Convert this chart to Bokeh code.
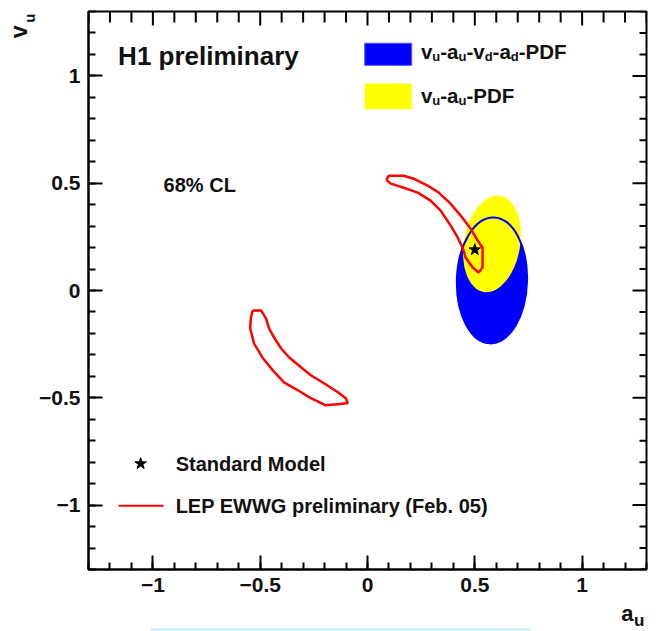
import numpy as np
from bokeh.plotting import figure
from bokeh.models import Range1d, LinearAxis, Label, FixedTicker, Title
from bokeh.embed import file_html
from bokeh.resources import INLINE

# ---------------- data ----------------
# LEP EWWG preliminary (Feb. 05) 68% CL contours
lep_upper_a = [0.088, 0.099, 0.169, 0.215, 0.280, 0.332, 0.387, 0.434, 0.480, 0.513,
               0.536, 0.536, 0.518, 0.490, 0.457, 0.443, 0.420, 0.387, 0.341, 0.294,
               0.234, 0.169, 0.108, 0.088]
lep_upper_v = [0.515, 0.535, 0.535, 0.521, 0.489, 0.456, 0.405, 0.349, 0.289, 0.233,
               0.200, 0.107, 0.084, 0.107, 0.154, 0.200, 0.247, 0.303, 0.372, 0.419,
               0.456, 0.479, 0.498, 0.515]
lep_lower_a = [-0.535, -0.496, -0.473, -0.459, -0.436, -0.403, -0.366, -0.310, -0.264,
               -0.203, -0.138, -0.101, -0.092, -0.194, -0.264, -0.324, -0.389, -0.441,
               -0.487, -0.529, -0.547, -0.543, -0.535]
lep_lower_v = [-0.093, -0.093, -0.130, -0.176, -0.218, -0.269, -0.311, -0.358, -0.395,
               -0.432, -0.474, -0.502, -0.525, -0.535, -0.502, -0.465, -0.428, -0.372,
               -0.316, -0.246, -0.176, -0.125, -0.093]

# H1 68% CL fits (ellipse centre, full widths, tilt)
fit_names = ["vu-au-vd-ad-PDF", "vu-au-PDF"]
fit_a = [0.580, 0.580]
fit_v = [0.047, 0.217]
fit_w = [0.327, 0.262]
fit_h = [0.587, 0.455]
fit_angle = [-0.03, -0.17]
fit_colors = ["#0000ff", "#ffff00"]

# Standard Model point
sm_a = [0.5]
sm_v = [0.19]

major_ticks = [-1.0, -0.5, 0.0, 0.5, 1.0]
minor_ticks = [round(t, 1) for t in np.arange(-1.3, 1.31, 0.1)]
minor_only = [t for t in minor_ticks if t not in major_ticks]

FONT = "Liberation Sans"
W = {"v": 0.556, "u": 0.611, "a": 0.556, "d": 0.611, "-": 0.333,
     "P": 0.667, "D": 0.722, "F": 0.611}
RED = "#ff0000"

# ---------------- figure ----------------
XR = Range1d(-1.3, 1.3)
YR = Range1d(-1.3, 1.3)
p = figure(width=669, height=631, x_range=XR, y_range=YR,
           output_backend="svg", toolbar_location=None,
           min_border_left=88, min_border_right=23, min_border_top=11, min_border_bottom=62)
p.grid.visible = False
p.outline_line_color = "black"
p.outline_line_width = 2
p.background_fill_color = "white"
p.border_fill_color = "white"

ticker = FixedTicker(ticks=major_ticks, minor_ticks=minor_ticks)

for ax in (p.xaxis[0], p.yaxis[0]):
    ax.ticker = ticker
    ax.axis_line_width = 2
    ax.axis_line_color = "black"
    ax.major_tick_line_width = 2
    ax.minor_tick_line_width = 2
    ax.major_tick_in = 14
    ax.major_tick_out = 0
    ax.minor_tick_in = 7
    ax.minor_tick_out = 0
    ax.major_label_text_font = FONT
    ax.major_label_text_font_style = "bold"
    ax.major_label_text_color = "#111111"
    ax.major_label_text_font_size = "21px"
    ax.major_label_standoff = 8

# mirrored ticks on top and right edges (drawn inward from the frame)
p.ray(x=major_ticks, y=[YR.end] * len(major_ticks), length=14, length_units="screen",
      angle=-np.pi / 2, line_color="black", line_width=2)
p.ray(x=minor_only, y=[YR.end] * len(minor_only), length=11, length_units="screen",
      angle=-np.pi / 2, line_color="black", line_width=2)
p.ray(x=[XR.end] * len(major_ticks), y=major_ticks, length=14, length_units="screen",
      angle=np.pi, line_color="black", line_width=2)
p.ray(x=[XR.end] * len(minor_only), y=minor_only, length=7, length_units="screen",
      angle=np.pi, line_color="black", line_width=2)

# fits
p.ellipse(x=fit_a[0], y=fit_v[0], width=fit_w[0], height=fit_h[0], angle=fit_angle[0],
          fill_color=fit_colors[0], line_color=None)
p.ellipse(x=fit_a[1], y=fit_v[1], width=fit_w[1], height=fit_h[1], angle=fit_angle[1],
          fill_color=fit_colors[1], line_color=None)
p.ellipse(x=fit_a[0], y=fit_v[0], width=fit_w[0], height=fit_h[0], angle=fit_angle[0],
          fill_color=None, line_color=fit_colors[0], line_width=2)

# LEP contours
p.line(lep_upper_a, lep_upper_v, line_color=RED, line_width=2.5)
p.line(lep_lower_a, lep_lower_v, line_color=RED, line_width=2.5)

# SM
p.scatter(sm_a, sm_v, marker="star", size=12, fill_color="black", line_color="black")

BASE_YO = 7


def lab(x, y, text, size, xo=0, yo=0):
    p.add_layout(Label(x=x, y=y, x_offset=xo, y_offset=yo + BASE_YO,
                       text=text, text_font=FONT, text_font_size=f"{size}px",
                       text_font_style="bold", text_color="#111111",
                       text_align="left", text_baseline="alphabetic"))


def rich(x, y, pieces, size, sub_size, drop):
    off = 0.0
    for txt, sub in pieces:
        fs = sub_size if sub else size
        lab(x, y, txt, fs, xo=off, yo=-drop if sub else 0)
        off += sum(W.get(c, 0.6) for c in txt) * fs


# texts inside frame
lab(-1.162, 1.059, "H1 preliminary", 26)
lab(-0.950, 0.457, "68% CL", 20)

# top-right legend
p.quad(left=[-0.013], right=[0.206], top=[1.152], bottom=[1.049],
       fill_color=fit_colors[0], line_color="#5555ff", line_width=1)
p.quad(left=[-0.013], right=[0.206], top=[0.965], bottom=[0.844],
       fill_color=fit_colors[1], line_color=None)
rich(0.249, 1.082, [("v", False), ("u", True), ("-a", False), ("u", True), ("-v", False),
                    ("d", True), ("-a", False), ("d", True), ("-PDF", False)], 20.5, 13, 5)
rich(0.249, 0.877, [("v", False), ("u", True), ("-a", False), ("u", True), ("-PDF", False)],
     20.5, 13, 5)

# bottom legend
p.scatter([-1.057], [-0.807], marker="star", size=12, fill_color="black", line_color="black")
lab(-0.894, -0.840, "Standard Model", 20)
p.line([-1.16, -0.95], [-1.003, -1.003], line_color=RED, line_width=2)
lab(-0.894, -1.035, "LEP EWWG preliminary (Feb. 05)", 20)


# axis titles placed at the end of the axes (ROOT style), with subscripts
def title(text, size, side, standoff, offset, valign="bottom"):
    t = Title(text=text, align="right", vertical_align=valign, text_font=FONT,
              text_font_size=f"{size}px", text_font_style="bold", text_color="#111111",
              standoff=standoff, offset=offset)
    p.add_layout(t, side)


title("u", 15, "left", -3, 2)
title("v", 23, "left", -22, 14)
title("a", 22, "below", 8, 13)

# faint cyan line at the bottom of the page
cyan = LinearAxis(bounds=(-1.01, 0.76), ticker=FixedTicker(ticks=[]),
                  axis_line_color="#bdeef8", axis_line_width=2,
                  major_tick_line_color=None, minor_tick_line_color=None)
p.add_layout(cyan, "below")

title("u", 17, "below", -37, 2, valign="top")

open("out.html", "w").write(file_html(p, INLINE))
